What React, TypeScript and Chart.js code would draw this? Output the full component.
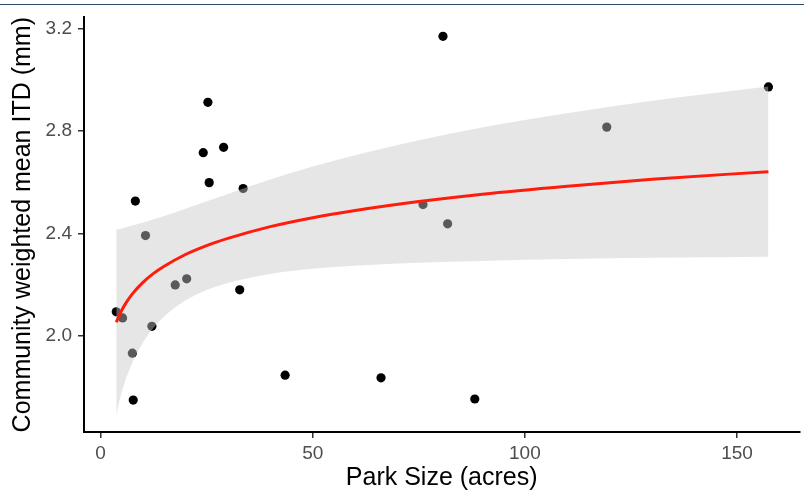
import React, { useEffect, useRef } from "react";
import { Chart, registerables } from "chart.js";

Chart.register(...registerables);

// Observed data (park size in acres, community weighted mean ITD in mm)
const parkSize = [3.7, 5.2, 7.5, 7.7, 8.2, 10.6, 12.1, 17.6, 20.3, 24.2, 25.3, 25.6, 29.0, 32.8, 33.6, 43.5, 66.1, 76.0, 80.7, 81.8, 88.2, 119.3, 157.4];
const meanITD = [2.094, 2.070, 1.932, 1.749, 2.527, 2.392, 2.037, 2.199, 2.223, 2.716, 2.913, 2.599, 2.737, 2.180, 2.576, 1.846, 1.836, 2.513, 3.171, 2.438, 1.753, 2.816, 2.973];

// Smoother: fitted line and its confidence band
const fitX = [3.7, 4.3, 5, 6, 7.5, 10, 12.5, 15, 20, 25, 30, 40, 50, 60, 75, 90, 110, 130, 157.4];
const fitY = [2.053, 2.076, 2.100, 2.129, 2.164, 2.209, 2.244, 2.272, 2.318, 2.353, 2.381, 2.427, 2.462, 2.490, 2.525, 2.554, 2.585, 2.612, 2.642];
const fitLower = [1.691, 1.735, 1.780, 1.833, 1.896, 1.974, 2.032, 2.076, 2.138, 2.179, 2.207, 2.242, 2.262, 2.274, 2.286, 2.293, 2.300, 2.305, 2.309];
const fitUpper = [2.415, 2.417, 2.420, 2.425, 2.431, 2.443, 2.456, 2.469, 2.497, 2.526, 2.555, 2.611, 2.662, 2.706, 2.765, 2.815, 2.870, 2.919, 2.975];

// Axis ticks
const xTicks = [0, 50, 100, 150];
const yTicks = [2.0, 2.4, 2.8, 3.2];

const FONT = "'Liberation Sans', Arial, Helvetica, sans-serif";

export default function App() {
  const ref = useRef<HTMLCanvasElement | null>(null);

  useEffect(() => {
    if (!ref.current) return;
    const pts = parkSize.map((x, i) => ({ x, y: meanITD[i] }));
    const lower = fitX.map((x, i) => ({ x, y: fitLower[i] }));
    const upper = fitX.map((x, i) => ({ x, y: fitUpper[i] }));
    const fit = fitX.map((x, i) => ({ x, y: fitY[i] }));

    const chart = new Chart(ref.current, {
      type: "scatter",
      data: {
        datasets: [
          {
            label: "points",
            data: pts,
            backgroundColor: "#000000",
            borderWidth: 0,
            pointRadius: 4.6,
            order: 4,
          } as any,
          {
            label: "lower",
            data: lower,
            showLine: true,
            borderColor: "transparent",
            borderWidth: 0,
            pointRadius: 0,
            fill: false,
            cubicInterpolationMode: "monotone",
            order: 3,
          },
          {
            label: "upper",
            data: upper,
            showLine: true,
            borderColor: "transparent",
            borderWidth: 0,
            pointRadius: 0,
            backgroundColor: "rgba(200,200,200,0.45)",
            fill: 1,
            cubicInterpolationMode: "monotone",
            order: 2,
          },
          {
            label: "fit",
            data: fit,
            showLine: true,
            borderColor: "rgb(255,28,12)",
            borderWidth: 3,
            pointRadius: 0,
            fill: false,
            cubicInterpolationMode: "monotone",
            order: 1,
          },
        ],
      },
      options: {
        animation: false,
        responsive: false,
        devicePixelRatio: 1,
        layout: { padding: { top: 17, right: 4, left: 0, bottom: 0 } },
        plugins: {
          legend: { display: false },
          tooltip: { enabled: false },
        },
        elements: { line: { tension: 0 } },
        scales: {
          x: {
            type: "linear",
            min: -3.9,
            max: 164.7,
            afterBuildTicks: (axis: any) => {
              axis.ticks = xTicks.map((v) => ({ value: v }));
            },
            afterFit: (scale: any) => {
              scale.height = 68;
            },
            grid: {
              display: true,
              drawOnChartArea: false,
              drawTicks: true,
              tickLength: 6,
              color: "#333333",
              lineWidth: 1.5,
            },
            border: { display: true, color: "#000000", width: 2 },
            ticks: {
              color: "#4d4d4d",
              font: { family: FONT, size: 19 },
              padding: 4,
              maxRotation: 0,
              callback: (v: any) => String(v),
            },
            title: {
              display: true,
              text: "Park Size (acres)",
              color: "#000000",
              font: { family: FONT, size: 25 },
              padding: { top: 0, bottom: 7 },
            },
          },
          y: {
            type: "linear",
            min: 1.624,
            max: 3.245,
            afterBuildTicks: (axis: any) => {
              axis.ticks = yTicks.map((v) => ({ value: v }));
            },
            afterFit: (scale: any) => {
              scale.width = 84;
            },
            grid: {
              display: true,
              drawOnChartArea: false,
              drawTicks: true,
              tickLength: 6,
              color: "#333333",
              lineWidth: 1.5,
            },
            border: { display: true, color: "#000000", width: 2 },
            ticks: {
              color: "#4d4d4d",
              font: { family: FONT, size: 19 },
              padding: 6,
              callback: (v: any) => Number(v).toFixed(1),
            },
            title: {
              display: true,
              text: "Community weighted mean ITD (mm)",
              color: "#000000",
              font: { family: FONT, size: 25 },
              padding: { top: 8, bottom: 0 },
            },
          },
        },
      },
    });
    return () => chart.destroy();
  }, []);

  return (
    <div
      style={{
        position: "absolute",
        left: 0,
        top: 0,
        width: 804,
        height: 500,
        background: "#ffffff",
        overflow: "hidden",
      }}
    >
      <div
        style={{
          position: "absolute",
          left: 0,
          top: 4,
          width: 804,
          height: 1,
          background: "#2c4b68",
        }}
      />
      <canvas
        ref={ref}
        width={804}
        height={500}
        style={{ display: "block", width: 804, height: 500 }}
      />
    </div>
  );
}
